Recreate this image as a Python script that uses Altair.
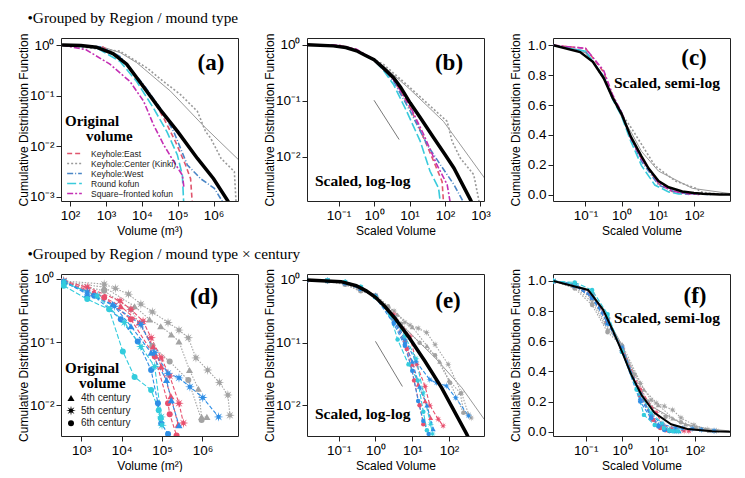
import numpy as np
import pandas as pd
import altair as alt

SERIF = "Liberation Serif"
SANS = "Liberation Sans"
YTITLE = "Cumulative Distribution Function"

# ---- legend groups ----
groups = ["Keyhole:East", "Keyhole:Center (Kinki)", "Keyhole:West", "Round kofun", "Square\u2212fronted kofun"]
group_colors = ["#E0566E", "#9A9A9A", "#4A86C6", "#3ACBDC", "#C42FB4"]
group_dashes = [[5, 3], [2, 2], [6, 2, 1, 2], [9, 3], [6, 2, 2, 2]]

regions = ["East", "Center", "West", "Round"]
region_colors = ["#E8506E", "#A3A3A3", "#2E8EE6", "#33CCDD"]
region_dashes = [[4, 2], [1.5, 1.5], [4, 2], [5, 2]]
centuries = ["4th century", "5th century", "6th century"]

# ---- panel (a): original volume, log-log ----
vol_a_fit = [60, 200, 540, 1580, 3800, 10000, 33000, 100000, 355000, 1000000, 2450000, 6000000]
cdf_a_fit = [1.0, 0.98, 0.91, 0.68, 0.42, 0.166, 0.0525, 0.0195, 0.00575, 0.00229, 0.00085, 0.0003]
vol_a_kinki_fit = [60, 830, 2500, 7200, 63000, 550000, 5000000]
cdf_a_kinki_fit = [1.0, 0.91, 0.71, 0.45, 0.123, 0.0245, 0.0054]
vol_a_east = [60, 830, 3800, 13800, 40700, 87000, 166000, 229000, 257000]
cdf_a_east = [1.0, 0.91, 0.42, 0.132, 0.0363, 0.0123, 0.00427, 0.00229, 0.0007]
vol_a_center = [60, 2450, 13800, 40700, 120000, 355000, 600000, 830000, 1620000, 3800000, 4270000]
cdf_a_center = [1.0, 0.76, 0.355, 0.19, 0.105, 0.049, 0.0195, 0.0145, 0.00575, 0.00316, 0.0007]
vol_a_west = [60, 700, 2450, 11200, 33000, 77600, 186000, 437000, 1050000, 2000000]
cdf_a_west = [1.0, 0.93, 0.60, 0.166, 0.056, 0.0195, 0.00427, 0.00229, 0.00148, 0.0007]
vol_a_round = [60, 540, 2450, 7200, 21400, 50000, 98000, 135000, 148000]
cdf_a_round = [1.0, 0.89, 0.48, 0.19, 0.056, 0.0195, 0.00676, 0.00269, 0.0007]
vol_a_square = [60, 280, 1290, 4700, 11200, 21400, 40700, 77600, 135000, 150000]
cdf_a_square = [1.0, 0.81, 0.42, 0.19, 0.078, 0.0263, 0.0107, 0.005, 0.00269, 0.0015]

# ---- panels (b), (c): scaled volume ----
sv_fit = [0.013, 0.071, 0.16, 0.32, 0.56, 1.0, 1.78, 3.55, 5.6, 10.5, 20, 47.9, 100, 178, 525, 1300]
cdf_fit = [1.0, 0.955, 0.89, 0.78, 0.65, 0.54, 0.39, 0.257, 0.175, 0.091, 0.05, 0.0219, 0.011, 0.0063, 0.0017, 0.0005]
sv_kinki_fit = [0.013, 0.1, 0.32, 1.0, 1.82, 3.55, 10.5, 91, 1300]
cdf_kinki_fit = [1.0, 0.95, 0.79, 0.52, 0.42, 0.29, 0.158, 0.0427, 0.00417]
sv_center = [0.013, 0.1, 0.4, 1.0, 1.82, 8.3, 31, 115, 158, 269, 646, 1000]
cdf_center = [1.0, 0.96, 0.74, 0.54, 0.45, 0.195, 0.091, 0.0427, 0.019, 0.0095, 0.0048, 0.0012]
sv_east = [0.013, 0.1, 0.32, 0.56, 1.0, 1.78, 3.55, 10.5, 25, 48, 83, 91]
cdf_east = [1.0, 0.98, 0.82, 0.66, 0.55, 0.38, 0.24, 0.074, 0.0219, 0.0083, 0.0036, 0.0015]
sv_west = [0.013, 0.1, 0.32, 0.56, 1.0, 1.78, 3.55, 10.5, 31, 74, 178, 339]
cdf_west = [1.0, 0.96, 0.79, 0.65, 0.55, 0.38, 0.224, 0.065, 0.0166, 0.0072, 0.0032, 0.0015]
sv_round = [0.013, 0.1, 0.32, 0.56, 1.0, 1.78, 3.55, 8.3, 20, 38, 66, 74]
cdf_round = [1.0, 0.96, 0.79, 0.64, 0.525, 0.36, 0.195, 0.065, 0.019, 0.0055, 0.00275, 0.0015]
sv_square = [0.013, 0.1, 0.32, 0.56, 1.0, 1.78, 3.55, 10.5, 25, 59, 115, 141]
cdf_square = [1.0, 0.98, 0.83, 0.67, 0.55, 0.38, 0.24, 0.079, 0.025, 0.0072, 0.0032, 0.0015]
slope_x = [1.0, 5.1]
slope_y = [0.102, 0.0203]

# ---- panel (d): original volume by region x century ----
vol_d_center_4 = [370, 3700, 20900, 49000, 93000, 170000, 263000, 479000, 794000, 955000, 1290000]
cdf_d_center_4 = [0.91, 0.74, 0.37, 0.229, 0.178, 0.132, 0.102, 0.036, 0.0182, 0.0065, 0.0065]
vol_d_center_5 = [370, 3700, 7000, 14800, 30000, 57500, 141000, 263000, 447000, 692000, 1350000, 2630000, 4270000, 4790000]
cdf_d_center_5 = [0.93, 0.83, 0.71, 0.575, 0.40, 0.30, 0.204, 0.155, 0.117, 0.056, 0.036, 0.0229, 0.0145, 0.0069]
vol_d_center_6 = [370, 3700, 17000, 57500, 155000, 447000, 955000]
cdf_d_center_6 = [0.89, 0.65, 0.33, 0.087, 0.049, 0.025, 0.0058]
vol_d_east_4 = [370, 2100, 9550, 27500, 60300, 95500, 166000, 251000]
cdf_d_east_4 = [0.91, 0.62, 0.37, 0.204, 0.085, 0.041, 0.0138, 0.0049]
vol_d_east_5 = [370, 1410, 9100, 17000, 33900, 53700, 95500, 155000, 263000, 339000]
cdf_d_east_5 = [0.93, 0.74, 0.45, 0.33, 0.214, 0.117, 0.056, 0.029, 0.0107, 0.0052]
vol_d_east_6 = [370, 3700, 17000, 66000, 141000, 155000, 229000]
cdf_d_east_6 = [0.89, 0.51, 0.229, 0.059, 0.0107, 0.0072, 0.0033]
vol_d_west_4 = [370, 1410, 6000, 17000, 53700, 129000, 170000, 263000]
cdf_d_west_4 = [0.91, 0.575, 0.40, 0.178, 0.068, 0.025, 0.012, 0.0048]
vol_d_west_5 = [370, 1410, 6600, 30000, 66000, 141000, 263000, 490000, 1020000, 2510000]
cdf_d_west_5 = [0.91, 0.62, 0.37, 0.19, 0.068, 0.032, 0.027, 0.0195, 0.0132, 0.0065]
vol_d_west_6 = [370, 2100, 9550, 25100, 53700, 79400, 95500, 141000]
cdf_d_west_6 = [0.89, 0.54, 0.229, 0.102, 0.036, 0.0107, 0.0051, 0.0035]
vol_d_round_5 = [370, 2500, 11700, 30000, 66000, 95500, 100000]
cdf_d_round_5 = [0.89, 0.54, 0.204, 0.085, 0.041, 0.0065, 0.0048]
vol_d_round_6 = [370, 1410, 4900, 10700, 20900, 53700, 83000, 93000]
cdf_d_round_6 = [0.78, 0.48, 0.33, 0.071, 0.028, 0.0174, 0.0083, 0.0062]

# ---- panels (e), (f): scaled volume by region x century ----
sv_e_fit = [0.013, 0.117, 0.3, 0.56, 1.0, 1.78, 3.4, 7.8, 22.4, 63, 302, 1000]
cdf_e_fit = [1.0, 0.94, 0.81, 0.67, 0.53, 0.38, 0.245, 0.126, 0.05, 0.019, 0.00347, 0.0008]
sv_e_kinki_fit = [0.013, 0.1, 0.3, 1.0, 2.5, 6.3, 41.7, 224, 900]
cdf_e_kinki_fit = [1.0, 0.95, 0.8, 0.575, 0.3, 0.17, 0.0575, 0.019, 0.006]
sv_e_center_4 = [0.013, 0.05, 0.15, 0.4, 1.0, 3.98, 10, 25, 56, 100, 200, 251]
cdf_e_center_4 = [1.0, 0.96, 0.86, 0.68, 0.58, 0.28, 0.178, 0.089, 0.05, 0.025, 0.0158, 0.0079]
sv_e_center_5 = [0.013, 0.05, 0.15, 0.35, 1.0, 3.2, 6.3, 8.7, 14.5, 24.5, 41.7, 95, 219, 339, 400]
cdf_e_center_5 = [1.0, 0.97, 0.88, 0.72, 0.55, 0.32, 0.21, 0.19, 0.17, 0.145, 0.093, 0.045, 0.0158, 0.0071, 0.0063]
sv_e_center_6 = [0.013, 0.05, 0.15, 0.4, 1.0, 2.2, 5.0, 15.8, 41.7, 107, 245]
cdf_e_center_6 = [1.0, 0.95, 0.84, 0.66, 0.57, 0.38, 0.2, 0.1, 0.063, 0.0229, 0.0076]
sv_e_east_4 = [0.013, 0.05, 0.15, 0.4, 1.0, 3.16, 6.3, 10, 14.5, 22.4, 31.6]
cdf_e_east_4 = [1.0, 0.97, 0.9, 0.74, 0.55, 0.25, 0.112, 0.045, 0.0214, 0.0117, 0.0063]
sv_e_east_5 = [0.013, 0.05, 0.15, 0.4, 1.0, 3.16, 8.7, 13.2, 22.4, 30, 51, 69]
cdf_e_east_5 = [1.0, 0.98, 0.91, 0.75, 0.55, 0.28, 0.126, 0.045, 0.02, 0.01, 0.006, 0.0047]
sv_e_east_6 = [0.013, 0.05, 0.15, 0.4, 1.0, 3.16, 7.1, 11.2, 15.8, 20]
cdf_e_east_6 = [1.0, 0.97, 0.89, 0.73, 0.54, 0.24, 0.079, 0.025, 0.01, 0.005]
sv_e_west_4 = [0.013, 0.05, 0.15, 0.4, 1.0, 3.16, 6.3, 10, 15.8, 25, 37]
cdf_e_west_4 = [1.0, 0.97, 0.89, 0.72, 0.54, 0.224, 0.1, 0.05, 0.02, 0.01, 0.0042]
sv_e_west_5 = [0.013, 0.05, 0.15, 0.4, 1.0, 3.16, 6.3, 12.6, 30, 45.7, 85, 151, 339]
cdf_e_west_5 = [1.0, 0.97, 0.89, 0.72, 0.56, 0.25, 0.112, 0.05, 0.0257, 0.0229, 0.0204, 0.0132, 0.0068]
sv_e_west_6 = [0.013, 0.05, 0.15, 0.4, 1.0, 3.16, 6.3, 10, 14.5, 20, 28]
cdf_e_west_6 = [1.0, 0.98, 0.9, 0.74, 0.53, 0.2, 0.089, 0.0355, 0.0117, 0.0056, 0.0035]
sv_e_round_5 = [0.013, 0.05, 0.15, 0.4, 1.0, 3.16, 6.3, 12.6, 20, 31.6, 35.5]
cdf_e_round_5 = [1.0, 0.98, 0.92, 0.76, 0.54, 0.25, 0.126, 0.056, 0.0158, 0.005, 0.0035]
sv_e_round_6 = [0.013, 0.05, 0.15, 0.4, 1.0, 2.5, 4.0, 7.9, 14.1, 20, 25]
cdf_e_round_6 = [1.0, 0.99, 0.94, 0.78, 0.53, 0.28, 0.112, 0.045, 0.025, 0.0079, 0.004]
slope_e_x = [1.0, 5.4]
slope_e_y = [0.105, 0.02]

# ---- helpers ----
SUP = "toString(round(log(datum.value) / LN10))"
for plain, sup in [("-", "\u207b"), ("0", "\u2070"), ("1", "\u00b9"), ("2", "\u00b2"), ("3", "\u00b3"),
                   ("4", "\u2074"), ("5", "\u2075"), ("6", "\u2076")]:
    SUP = f"replace({SUP}, '{plain}', '{sup}')"
SUP = "'10' + " + SUP

AXIS_STYLE = dict(labelFont=SANS, titleFont=SANS, labelFontSize=13.5, titleFontSize=12, titleFontWeight="normal",
                  labelColor="black", titleColor="black", tickColor="#222222", tickSize=5, domain=False,
                  grid=False, labelPadding=2, labelOverlap=False, labelFlush=False)


def frame(entries):
    rows = []
    for entry in entries:
        name, xs, ys = entry[:3]
        extra = entry[3] if len(entry) > 3 else {}
        for x, y in zip(xs, ys):
            rows.append({"series": name, "x": x, "y": y, **extra})
    return pd.DataFrame(rows)


def enc_xy(xdom, xticks, xtitle, ydom, yticks, ylog=True):
    x = alt.X("x:Q", scale=alt.Scale(type="log", domain=xdom, nice=False),
              axis=alt.Axis(values=xticks, labelExpr=SUP, title=xtitle, titlePadding=4, **AXIS_STYLE))
    yaxis = dict(title=YTITLE, titlePadding=0, minExtent=31, maxExtent=31, **AXIS_STYLE)
    if ylog:
        y = alt.Y("y:Q", scale=alt.Scale(type="log", domain=ydom, nice=False),
                  axis=alt.Axis(values=yticks, labelExpr=SUP, **yaxis))
    else:
        y = alt.Y("y:Q", scale=alt.Scale(domain=ydom, nice=False, zero=False),
                  axis=alt.Axis(values=yticks, format=".1f", **yaxis))
    return x, y


def note(text, x, y, size, font=SERIF, weight="bold", align="left"):
    return alt.Chart(pd.DataFrame({"t": [text]})).mark_text(
        align=align, baseline="middle", font=font, fontSize=size, fontWeight=weight, color="black"
    ).encode(x=alt.value(x), y=alt.value(y), text="t:N")


def fit_layers(df, x, y, black_w):
    black = alt.Chart(df[df.series == "fit"]).mark_line(color="black", strokeWidth=black_w, clip=True).encode(x=x, y=y)
    gray = alt.Chart(df[df.series == "kinki"]).mark_line(color="#999999", strokeWidth=1, clip=True).encode(x=x, y=y)
    return black, gray


W, H1, H2 = 177, 163, 162

# ---- row 1 ----
legend_a = alt.Legend(title=None, orient="none", legendX=9, legendY=111, labelFont=SANS, labelFontSize=8.5,
                      labelColor="#222222", symbolType="M-2.1,0H2.1", symbolSize=49, symbolStrokeWidth=1.4,
                      rowPadding=1.0, labelOffset=12, padding=0)


def group_lines(df, x, y, legend):
    return alt.Chart(df[df.series.isin(groups)]).mark_line(strokeWidth=1.6, clip=True).encode(
        x=x, y=y,
        color=alt.Color("series:N", scale=alt.Scale(domain=groups, range=group_colors), legend=legend),
        strokeDash=alt.StrokeDash("series:N", scale=alt.Scale(domain=groups, range=group_dashes), legend=legend),
        order=alt.Order("x:Q"),
    )


df_a = frame([
    ("fit", vol_a_fit, cdf_a_fit), ("kinki", vol_a_kinki_fit, cdf_a_kinki_fit),
    (groups[0], vol_a_east, cdf_a_east), (groups[1], vol_a_center, cdf_a_center),
    (groups[2], vol_a_west, cdf_a_west), (groups[3], vol_a_round, cdf_a_round),
    (groups[4], vol_a_square, cdf_a_square),
])
xa, ya = enc_xy([56, 4.8e6], [1e2, 1e3, 1e4, 1e5, 1e6], "Volume (m\u00b3)",
                [0.00083, 1.38], [1e-3, 1e-2, 1e-1, 1])
black_a, gray_a = fit_layers(df_a, xa, ya, 3.5)
panel_a = alt.layer(
    gray_a, group_lines(df_a, xa, ya, legend_a), black_a,
    note("(a)", 150, 25, 23, align="center"),
    note("Original", 4, 83, 15), note("volume", 25, 98, 15),
).properties(width=W, height=H1)

df_b = frame([
    ("fit", sv_fit, cdf_fit), ("kinki", sv_kinki_fit, cdf_kinki_fit),
    (groups[0], sv_east, cdf_east), (groups[1], sv_center, cdf_center),
    (groups[2], sv_west, cdf_west), (groups[3], sv_round, cdf_round),
    (groups[4], sv_square, cdf_square), ("slope", slope_x, slope_y),
])
xb, yb = enc_xy([0.0129, 1259], [0.1, 1, 10, 100, 1000], "Scaled Volume",
                [0.00162, 1.32], [1e-2, 1e-1, 1])
black_b, gray_b = fit_layers(df_b, xb, yb, 3.5)
slope_b = alt.Chart(df_b[df_b.series == "slope"]).mark_line(color="#555555", strokeWidth=0.8).encode(x=xb, y=yb)
panel_b = alt.layer(
    gray_b, group_lines(df_b, xb, yb, None), black_b, slope_b,
    note("(b)", 142, 25, 23, align="center"), note("Scaled, log-log", 8, 143, 15.5),
).properties(width=W, height=H1)

xc, yc = enc_xy([0.0126, 1000], [0.1, 1, 10, 100], "Scaled Volume",
                [-0.042, 1.049], [0, 0.2, 0.4, 0.6, 0.8, 1.0], ylog=False)
df_c = df_b[df_b.series != "slope"]
black_c, gray_c = fit_layers(df_c, xc, yc, 2.5)
panel_c = alt.layer(
    gray_c, group_lines(df_c, xc, yc, None), black_c,
    note("(c)", 141, 20, 23, align="center"), note("Scaled, semi-log", 61, 45, 15.5),
).properties(width=W, height=H1)

# ---- row 2 ----
ASTERISK = "M" + "L".join(
    f"{(1.0 if k % 2 == 0 else 0.36) * np.sin(np.pi * k / 8):.3f},{-(1.0 if k % 2 == 0 else 0.36) * np.cos(np.pi * k / 8):.3f}"
    for k in range(16)) + "Z"
legend_d = alt.Legend(title=None, orient="none", legendX=5, legendY=119, labelFont=SANS, labelFontSize=10,
                      labelColor="#222222", symbolFillColor="black", symbolStrokeColor="black",
                      symbolStrokeWidth=0, rowPadding=2.6, labelOffset=5, padding=0)


def century_layers(df, x, y, legend, sizes):
    d = df[df.region.notna()]
    lines = alt.Chart(d).mark_line(strokeWidth=1.1, clip=True).encode(
        x=x, y=y, detail="series:N", order=alt.Order("x:Q"),
        color=alt.Color("region:N", scale=alt.Scale(domain=regions, range=region_colors), legend=None),
        strokeDash=alt.StrokeDash("region:N", scale=alt.Scale(domain=regions, range=region_dashes), legend=None),
    )
    pts = alt.Chart(d).mark_point(filled=True, opacity=1, clip=True).encode(
        x=x, y=y,
        color=alt.Color("region:N", scale=alt.Scale(domain=regions, range=region_colors), legend=None),
        shape=alt.Shape("century:N", scale=alt.Scale(domain=centuries, range=["triangle-up", ASTERISK, "circle"]),
                        legend=legend),
        size=alt.Size("century:N", scale=alt.Scale(type="ordinal", domain=centuries, range=sizes), legend=legend),
    )
    return lines, pts


def tag(region, century):
    return {"region": region, "century": century}


df_d = frame([
    ("c4", vol_d_center_4, cdf_d_center_4, tag("Center", centuries[0])),
    ("c5", vol_d_center_5, cdf_d_center_5, tag("Center", centuries[1])),
    ("c6", vol_d_center_6, cdf_d_center_6, tag("Center", centuries[2])),
    ("e4", vol_d_east_4, cdf_d_east_4, tag("East", centuries[0])),
    ("e5", vol_d_east_5, cdf_d_east_5, tag("East", centuries[1])),
    ("e6", vol_d_east_6, cdf_d_east_6, tag("East", centuries[2])),
    ("w4", vol_d_west_4, cdf_d_west_4, tag("West", centuries[0])),
    ("w5", vol_d_west_5, cdf_d_west_5, tag("West", centuries[1])),
    ("w6", vol_d_west_6, cdf_d_west_6, tag("West", centuries[2])),
    ("r5", vol_d_round_5, cdf_d_round_5, tag("Round", centuries[1])),
    ("r6", vol_d_round_6, cdf_d_round_6, tag("Round", centuries[2])),
])
xd, yd = enc_xy([316, 7.6e6], [1e3, 1e4, 1e5, 1e6], "Volume (m\u00b2)",
                [0.00324, 1.2], [1e-2, 1e-1, 1])
lines_d, pts_d = century_layers(df_d, xd, yd, legend_d, [50, 95, 36])
panel_d = alt.layer(
    lines_d, pts_d,
    note("(d)", 143, 23, 23, align="center"),
    note("Original", 4, 94, 15), note("volume", 18, 109, 15),
).properties(width=W, height=H2)

df_e = frame([
    ("fit", sv_e_fit, cdf_e_fit), ("kinki", sv_e_kinki_fit, cdf_e_kinki_fit),
    ("slope", slope_e_x, slope_e_y),
    ("c4", sv_e_center_4, cdf_e_center_4, tag("Center", centuries[0])),
    ("c5", sv_e_center_5, cdf_e_center_5, tag("Center", centuries[1])),
    ("c6", sv_e_center_6, cdf_e_center_6, tag("Center", centuries[2])),
    ("e4", sv_e_east_4, cdf_e_east_4, tag("East", centuries[0])),
    ("e5", sv_e_east_5, cdf_e_east_5, tag("East", centuries[1])),
    ("e6", sv_e_east_6, cdf_e_east_6, tag("East", centuries[2])),
    ("w4", sv_e_west_4, cdf_e_west_4, tag("West", centuries[0])),
    ("w5", sv_e_west_5, cdf_e_west_5, tag("West", centuries[1])),
    ("w6", sv_e_west_6, cdf_e_west_6, tag("West", centuries[2])),
    ("r5", sv_e_round_5, cdf_e_round_5, tag("Round", centuries[1])),
    ("r6", sv_e_round_6, cdf_e_round_6, tag("Round", centuries[2])),
])
xe, ye = enc_xy([0.0138, 891], [0.1, 1, 10, 100], "Scaled Volume",
                [0.00324, 1.245], [1e-2, 1e-1, 1])
black_e, gray_e = fit_layers(df_e, xe, ye, 3.5)
slope_e = alt.Chart(df_e[df_e.series == "slope"]).mark_line(color="#555555", strokeWidth=0.8).encode(x=xe, y=ye)
lines_e, pts_e = century_layers(df_e, xe, ye, None, [26, 50, 20])
panel_e = alt.layer(
    gray_e, lines_e, pts_e, black_e, slope_e,
    note("(e)", 141, 27, 23, align="center"), note("Scaled, log-log", 8, 140, 15.5),
).properties(width=W, height=H2)

xf, yf = enc_xy([0.0126, 933], [0.1, 1, 10, 100], "Scaled Volume",
                [-0.028, 1.046], [0, 0.2, 0.4, 0.6, 0.8, 1.0], ylog=False)
df_f = df_e[df_e.series != "slope"]
black_f, gray_f = fit_layers(df_f, xf, yf, 2)
lines_f, pts_f = century_layers(df_f, xf, yf, None, [26, 50, 20])
panel_f = alt.layer(
    gray_f, lines_f, pts_f, black_f,
    note("(f)", 142, 22, 23, align="center"), note("Scaled, semi-log", 61, 44, 15.5),
).properties(width=W, height=H2)

indep = dict(color="independent", strokeDash="independent", shape="independent", size="independent")


def header(text):
    return alt.TitleParams(text=text, anchor="start", font=SERIF, fontSize=15.3, fontWeight="normal",
                           color="black", dx=11, offset=6)


row1 = alt.hconcat(panel_a, panel_b, panel_c, spacing=69, bounds="flush",
                   title=header("\u2022Grouped by Region / mound type")).resolve_scale(**indep)
row2 = alt.hconcat(panel_d, panel_e, panel_f, spacing=69, bounds="flush",
                   title=header("\u2022Grouped by Region / mound type \u00d7 century")).resolve_scale(**indep)

chart = alt.vconcat(row1, row2, spacing=9).resolve_scale(**indep).properties(
    padding={"left": 8, "top": 3, "right": 5, "bottom": 0}, background="white"
).configure_view(
    stroke="#222222", strokeWidth=1
)

chart.save("out.html", embed_options={"renderer": "svg", "actions": False})
